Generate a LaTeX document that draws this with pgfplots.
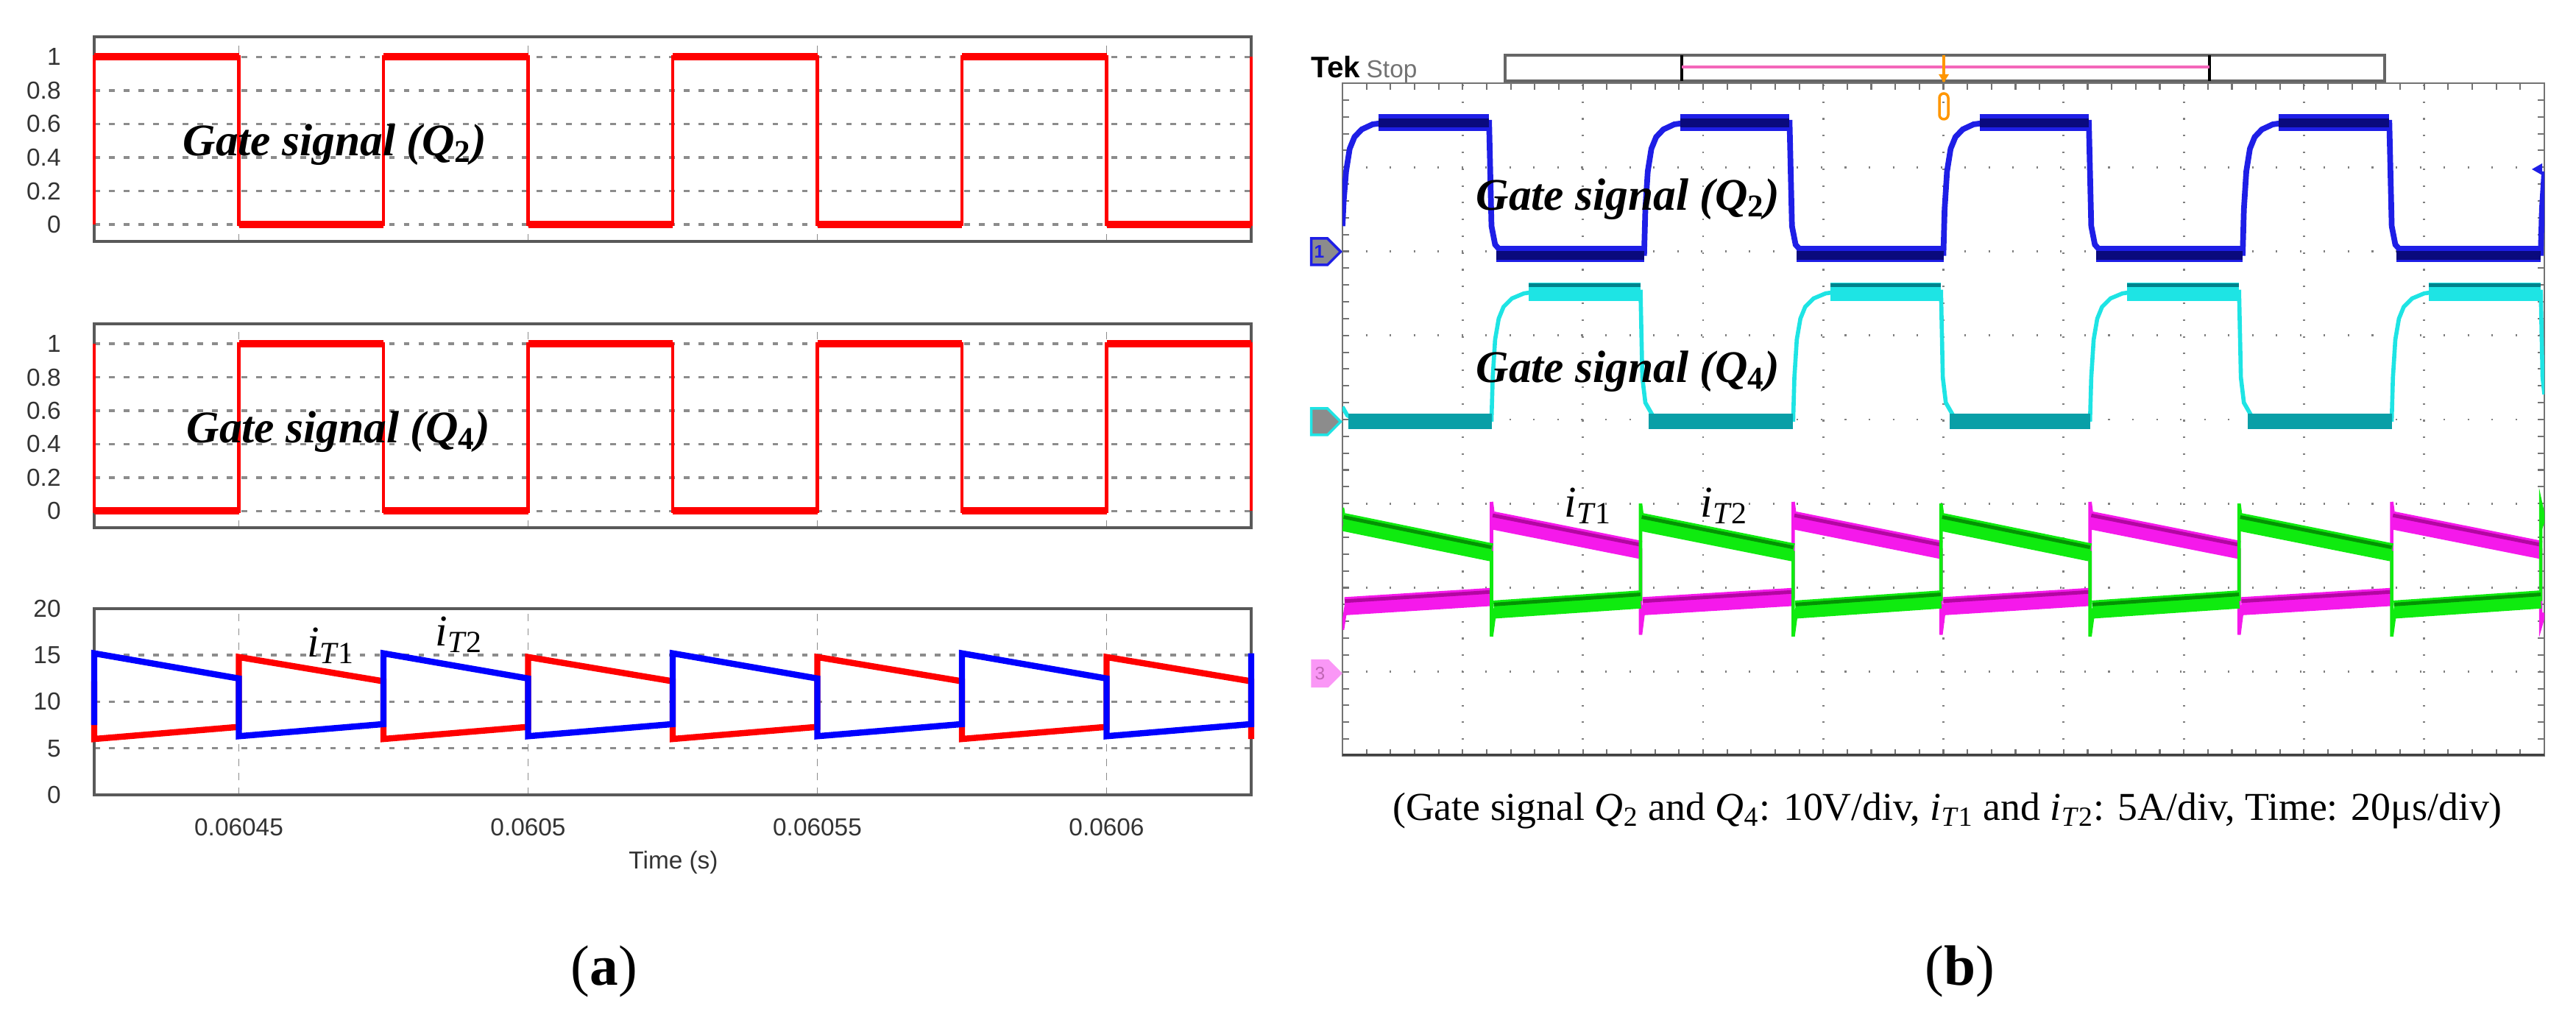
\documentclass[border=0pt]{standalone}
\usepackage{fontspec}
\setmainfont{Liberation Serif}
\setsansfont{Liberation Sans}
\usepackage{pgfplots}
\pgfplotsset{compat=1.18}
\usetikzlibrary{shapes.symbols}

\definecolor{psimred}{RGB}{255,0,0}
\definecolor{psimblue}{RGB}{0,0,255}
\definecolor{tekblue}{RGB}{30,30,230}
\definecolor{tekblueD}{RGB}{10,10,125}
\definecolor{tekcyan}{RGB}{30,228,228}
\definecolor{tekcyanD}{RGB}{0,130,140}
\definecolor{tekmag}{RGB}{245,25,235}
\definecolor{tekmagD}{RGB}{150,0,130}
\definecolor{tekgreen}{RGB}{15,235,15}
\definecolor{tekgreenD}{RGB}{0,110,0}
\definecolor{trig}{RGB}{255,150,0}

\newcommand\gatefont{\fontsize{17.5}{20}\selectfont\bfseries\itshape}
\newcommand\curfont{\fontsize{17}{20}\selectfont}
\newcommand\tickfont{\sffamily\fontsize{9.5}{11}\selectfont}

\pgfplotsset{
  psim/.style={
    scale only axis, width=157.2mm, anchor=south west,
    xmin=25, xmax=225, xtick={50,100,150,200}, xticklabels={},
    major tick length=0pt, clip=false,
    axis line style={black!65, line width=1.1pt},
    xmajorgrids, ymajorgrids,
    major x grid style={black!45, line width=0.5pt, dash pattern=on 2.8pt off 2.8pt},
    major y grid style={black!45, line width=1pt, dash pattern=on 2.2pt off 3.5pt},
    ticklabel style={font=\tickfont, text=black!80},
    yticklabel style={xshift=-3.3mm},
    /pgf/number format/assume math mode=true,
    unbounded coords=jump,
  },
}

\begin{document}
\begin{tikzpicture}
\path[use as bounding box] (0,0) rectangle (350mm,137.5mm);

% ---------- (a) simulation, time axis in us after 0.0604 s ----------
\begin{axis}[psim, at={(12.8mm,104.7mm)}, height=27.8mm,
  ymin=-0.1, ymax=1.12, ytick={0,0.2,0.4,0.6,0.8,1}]
\addplot[psimred, line width=1.3pt] coordinates {
  (25,0)(25,1)(50,1)(50,0)(75,0)(75,1)(100,1)(100,0)(125,0)(125,1)
  (150,1)(150,0)(175,0)(175,1)(200,1)(200,0)(225,0)(225,1)};
\addplot[psimred, line width=2.8pt] coordinates {
  (25,1)(50,1)(50,nan)(50,0)(75,0)(75,nan)(75,1)(100,1)(100,nan)(100,0)(125,0)(125,nan)
  (125,1)(150,1)(150,nan)(150,0)(175,0)(175,nan)(175,1)(200,1)(200,nan)(200,0)(225,0)};
\end{axis}

\begin{axis}[psim, at={(12.8mm,65.8mm)}, height=27.7mm,
  ymin=-0.1, ymax=1.12, ytick={0,0.2,0.4,0.6,0.8,1}]
\addplot[psimred, line width=1.3pt] coordinates {
  (25,1)(25,0)(50,0)(50,1)(75,1)(75,0)(100,0)(100,1)(125,1)(125,0)
  (150,0)(150,1)(175,1)(175,0)(200,0)(200,1)(225,1)(225,0)};
\addplot[psimred, line width=2.8pt] coordinates {
  (25,0)(50,0)(50,nan)(50,1)(75,1)(75,nan)(75,0)(100,0)(100,nan)(100,1)(125,1)(125,nan)
  (125,0)(150,0)(150,nan)(150,1)(175,1)(175,nan)(175,0)(200,0)(200,nan)(200,1)(225,1)};
\end{axis}

\begin{axis}[psim, at={(12.8mm,29.5mm)}, height=25.3mm,
  ymin=0, ymax=20, ytick={0,5,10,15,20},
  xticklabels={0.06045,0.0605,0.06055,0.0606},
  xticklabel style={yshift=-2mm}]
\addplot[psimred, line width=2.4pt] coordinates {
  (25,12.2)(25,6.0)(50,7.3)(50,14.8)(75,12.2)(75,6.0)(100,7.3)(100,14.8)(125,12.2)
  (125,6.0)(150,7.3)(150,14.8)(175,12.2)(175,6.0)(200,7.3)(200,14.8)(225,12.2)(225,6.0)};
\addplot[psimblue, line width=2.4pt] coordinates {
  (25,7.5)(25,15.2)(50,12.5)(50,6.3)(75,7.6)(75,15.2)(100,12.5)(100,6.3)(125,7.6)
  (125,15.2)(150,12.5)(150,6.3)(175,7.6)(175,15.2)(200,12.5)(200,6.3)(225,7.6)(225,15.2)};
\end{axis}

\node[font=\tickfont, text=black!80] at (91.5mm,20.3mm) {Time (s)};
\node[font=\gatefont] at (45.5mm,117.8mm) {Gate signal (Q\textsubscript{\upshape 2})};
\node[font=\gatefont] at (46.0mm,78.8mm) {Gate signal (Q\textsubscript{\upshape 4})};
\node[font=\curfont] at (45.0mm,49.8mm) {\textit{i}\textsubscript{\textit{T}1}};
\node[font=\curfont] at (62.4mm,51.3mm) {\textit{i}\textsubscript{\textit{T}2}};

% ---------- (b) oscilloscope, 10 x 8 divisions ----------
\begin{axis}[scale only axis, width=163.3mm, height=91.4mm,
  at={(182.4mm,34.8mm)}, anchor=south west,
  xmin=0, xmax=10, ymin=-4, ymax=4,
  xtick={0,...,10}, ytick={-4,...,4}, xticklabels={}, yticklabels={},
  minor x tick num=4, minor y tick num=4, tick align=inside,
  major tick length=0.9mm, minor tick length=0.9mm,
  tick style={black!55, line width=0.6pt},
  grid=major,
  major x grid style={black!50, line width=0.8pt, dash pattern=on 0.6pt off 5.88pt, dash phase=0.3pt},
  major y grid style={black!50, line width=0.8pt, dash pattern=on 0.6pt off 8.66pt, dash phase=0.3pt},
  extra x ticks={5}, extra y ticks={0}, extra x tick labels={}, extra y tick labels={},
  extra tick style={major grid style={solid, black!45, line width=0.9pt}},
  axis line style={black!55, line width=0.8pt},
  unbounded coords=jump]
% CH2, gate Q4
\addplot[tekcyan, line width=1.6pt] coordinates {
  (0,0.15)(0.04,0.05)(0.1,0.0)(1.24,0.0)(1.25,0.5)(1.27,0.95)(1.30,1.2)(1.34,1.34)(1.41,1.44)(1.51,1.5)(1.61,1.52)
  (2.48,1.52)(2.495,0.5)(2.52,0.2)(2.58,0.05)(2.66,0.0)
  (3.75,0.0)(3.76,0.5)(3.78,0.95)(3.81,1.2)(3.85,1.34)(3.92,1.44)(4.02,1.5)(4.12,1.52)
  (4.98,1.52)(4.995,0.5)(5.02,0.2)(5.08,0.05)(5.16,0.0)
  (6.22,0.0)(6.23,0.5)(6.25,0.95)(6.28,1.2)(6.32,1.34)(6.39,1.44)(6.49,1.5)(6.59,1.52)
  (7.46,1.52)(7.475,0.5)(7.5,0.2)(7.56,0.05)(7.64,0.0)
  (8.73,0.0)(8.74,0.5)(8.76,0.95)(8.79,1.2)(8.83,1.34)(8.9,1.44)(9.0,1.5)(9.1,1.52)
  (9.97,1.52)(9.985,0.5)(10,0.3)};
\addplot[tekcyan, line width=7pt] coordinates {
  (1.55,1.52)(2.48,1.52)(2.48,nan)(4.06,1.52)(4.98,1.52)(4.98,nan)
  (6.53,1.52)(7.46,1.52)(7.46,nan)(9.04,1.52)(9.97,1.52)};
\addplot[tekcyanD!70!tekcyan, line width=6pt] coordinates {
  (0.05,-0.02)(1.24,-0.02)(1.24,nan)(2.55,-0.02)(3.75,-0.02)(3.75,nan)
  (5.05,-0.02)(6.22,-0.02)(6.22,nan)(7.53,-0.02)(8.73,-0.02)};
\addplot[tekcyanD, line width=1.5pt] coordinates {
  (1.55,1.6)(2.48,1.6)(2.48,nan)(4.06,1.6)(4.98,1.6)(4.98,nan)
  (6.53,1.6)(7.46,1.6)(7.46,nan)(9.04,1.6)(9.97,1.6)};
% CH1, gate Q2
\addplot[tekblue, line width=2.2pt] coordinates {
  (0,2.3)(0.01,2.6)(0.03,2.95)(0.06,3.22)(0.1,3.36)(0.16,3.45)(0.25,3.51)(0.35,3.53)
  (1.22,3.53)(1.24,2.3)(1.27,2.08)(1.32,2.0)(1.37,1.98)
  (2.51,1.98)(2.52,2.5)(2.54,2.95)(2.57,3.22)(2.61,3.36)(2.67,3.45)(2.76,3.51)(2.86,3.53)
  (3.72,3.53)(3.74,2.3)(3.77,2.08)(3.82,2.0)(3.87,1.98)
  (5.0,1.98)(5.01,2.5)(5.03,2.95)(5.06,3.22)(5.1,3.36)(5.16,3.45)(5.25,3.51)(5.35,3.53)
  (6.21,3.53)(6.23,2.3)(6.26,2.08)(6.31,2.0)(6.36,1.98)
  (7.49,1.98)(7.5,2.5)(7.52,2.95)(7.55,3.22)(7.59,3.36)(7.65,3.45)(7.74,3.51)(7.84,3.53)
  (8.71,3.53)(8.73,2.3)(8.76,2.08)(8.81,2.0)(8.86,1.98)
  (9.97,1.98)(9.98,2.5)(10,2.95)};
\addplot[tekblue, line width=6.5pt] coordinates {
  (0.3,3.53)(1.22,3.53)(1.22,nan)(2.81,3.53)(3.72,3.53)(3.72,nan)
  (5.3,3.53)(6.21,3.53)(6.21,nan)(7.79,3.53)(8.71,3.53)(8.71,nan)
  (1.28,1.97)(2.51,1.97)(2.51,nan)(3.78,1.97)(5.0,1.97)(5.0,nan)
  (6.27,1.97)(7.49,1.97)(7.49,nan)(8.77,1.97)(9.97,1.97)};
\addplot[tekblueD, line width=3.5pt] coordinates {
  (0.3,3.53)(1.22,3.53)(1.22,nan)(2.81,3.53)(3.72,3.53)(3.72,nan)
  (5.3,3.53)(6.21,3.53)(6.21,nan)(7.79,3.53)(8.71,3.53)(8.71,nan)
  (1.28,1.95)(2.51,1.95)(2.51,nan)(3.78,1.95)(5.0,1.95)(5.0,nan)
  (6.27,1.95)(7.49,1.95)(7.49,nan)(8.77,1.95)(9.97,1.95)};
% CH3, iT1
\addplot[tekmag, line width=1.3pt] coordinates {
  (0,-2.5)(0.03,-2.22)(1.24,-2.11)(1.24,-0.98)(1.26,-1.2)(2.48,-1.55)(2.48,-2.56)(2.51,-2.22)
  (3.75,-2.11)(3.75,-0.98)(3.77,-1.2)(4.98,-1.55)(4.98,-2.56)(5.01,-2.22)
  (6.22,-2.11)(6.22,-0.98)(6.24,-1.2)(7.46,-1.55)(7.46,-2.56)(7.49,-2.22)
  (8.73,-2.11)(8.73,-0.98)(8.75,-1.2)(9.97,-1.55)(9.97,-2.45)(10,-2.3)};
\addplot[tekmag, line width=7pt] coordinates {
  (1.25,-1.2)(2.48,-1.55)(2.48,nan)(3.76,-1.2)(4.98,-1.55)(4.98,nan)
  (6.23,-1.2)(7.46,-1.55)(7.46,nan)(8.74,-1.2)(9.97,-1.55)(9.97,nan)
  (0.02,-2.22)(1.24,-2.11)(1.24,nan)(2.5,-2.22)(3.75,-2.11)(3.75,nan)
  (5.0,-2.22)(6.22,-2.11)(6.22,nan)(7.48,-2.22)(8.73,-2.11)};
\addplot[tekmagD, line width=1.4pt, opacity=0.7] coordinates {
  (1.25,-1.14)(2.48,-1.49)(2.48,nan)(3.76,-1.14)(4.98,-1.49)(4.98,nan)
  (6.23,-1.14)(7.46,-1.49)(7.46,nan)(8.74,-1.14)(9.97,-1.49)(9.97,nan)
  (0.02,-2.16)(1.24,-2.05)(1.24,nan)(2.5,-2.16)(3.75,-2.05)(3.75,nan)
  (5.0,-2.16)(6.22,-2.05)(6.22,nan)(7.48,-2.16)(8.73,-2.05)};
% CH4, iT2
\addplot[tekgreen, line width=1.3pt] coordinates {
  (0,-1.05)(0.02,-1.22)(1.24,-1.58)(1.24,-2.58)(1.27,-2.26)(2.48,-2.14)
  (2.48,-1.0)(2.50,-1.22)(3.75,-1.58)(3.75,-2.58)(3.78,-2.26)(4.98,-2.14)
  (4.98,-1.0)(5.0,-1.22)(6.22,-1.58)(6.22,-2.58)(6.25,-2.26)(7.46,-2.14)
  (7.46,-1.0)(7.48,-1.22)(8.73,-1.58)(8.73,-2.58)(8.76,-2.26)(9.97,-2.14)
  (9.97,-1.0)(10,-1.2)};
\addplot[tekgreen, line width=7pt] coordinates {
  (0.01,-1.22)(1.24,-1.58)(1.24,nan)(2.49,-1.22)(3.75,-1.58)(3.75,nan)
  (4.99,-1.22)(6.22,-1.58)(6.22,nan)(7.47,-1.22)(8.73,-1.58)(8.73,nan)
  (9.98,-1.22)(10,-1.23)(10,nan)
  (1.26,-2.26)(2.48,-2.14)(2.48,nan)(3.77,-2.26)(4.98,-2.14)(4.98,nan)
  (6.24,-2.26)(7.46,-2.14)(7.46,nan)(8.75,-2.26)(9.97,-2.14)};
\addplot[tekgreenD, line width=1.4pt, opacity=0.7] coordinates {
  (0.01,-1.16)(1.24,-1.52)(1.24,nan)(2.49,-1.16)(3.75,-1.52)(3.75,nan)
  (4.99,-1.16)(6.22,-1.52)(6.22,nan)(7.47,-1.16)(8.73,-1.52)(8.73,nan)
  (1.26,-2.2)(2.48,-2.08)(2.48,nan)(3.77,-2.2)(4.98,-2.08)(4.98,nan)
  (6.24,-2.2)(7.46,-2.08)(7.46,nan)(8.75,-2.2)(9.97,-2.08)};
\draw[black!75, line width=1.6pt] (rel axis cs:0,0) -- (rel axis cs:1,0);
\end{axis}

% scope frame decorations
\draw[black!60, line width=0.9pt, fill=white] (204.5mm,126.5mm) rectangle (324.0mm,130.0mm);
\draw[black, line width=0.9pt] (228.5mm,126.5mm) -- (228.5mm,130.0mm);
\draw[black, line width=0.9pt] (300.2mm,126.5mm) -- (300.2mm,130.0mm);
\draw[magenta!60, line width=1pt] (228.5mm,128.4mm) -- (300.2mm,128.4mm);
\draw[trig, line width=1.2pt] (264.1mm,130.0mm) -- (264.1mm,126.4mm);
\fill[trig] (263.4mm,127.4mm) -- (264.8mm,127.4mm) -- (264.1mm,126.3mm) -- cycle;
\draw[trig, line width=1pt, rounded corners=0.6mm] (263.5mm,121.3mm) rectangle (264.7mm,124.8mm);
\fill[tekblue] (344.0mm,114.5mm) -- (345.4mm,115.3mm) -- (345.4mm,113.7mm) -- cycle;
\node[font=\sffamily\bfseries\fontsize{11.5}{12}\selectfont, anchor=base west, inner sep=0pt] at (178.1mm,126.9mm) {Tek};
\node[font=\sffamily\fontsize{9.5}{11}\selectfont, text=black!55, anchor=base west, inner sep=0pt] at (185.6mm,126.9mm) {Stop};
\node[signal, signal to=east, draw=tekblue, line width=1pt, fill=black!45, text=tekblue,
  font=\sffamily\bfseries\scriptsize, minimum width=4mm, minimum height=3.6mm, inner sep=0.3mm, anchor=east]
  at (182.4mm,103.3mm) {1};
\node[signal, signal to=east, draw=tekcyan, line width=1pt, fill=black!45, text=black!45,
  font=\sffamily\bfseries\scriptsize, minimum width=4mm, minimum height=3.6mm, inner sep=0.3mm, anchor=east]
  at (182.4mm,80.2mm) {2};
\node[signal, signal to=east, draw=tekmag!45, line width=0.6pt, fill=tekmag!45, text=tekmagD!60,
  font=\sffamily\scriptsize, minimum width=4mm, minimum height=3.6mm, inner sep=0.3mm, anchor=east]
  at (182.4mm,46.0mm) {3};

\node[font=\gatefont] at (221.2mm,110.4mm) {Gate signal (Q\textsubscript{\upshape 2})};
\node[font=\gatefont] at (221.2mm,87.0mm) {Gate signal (Q\textsubscript{\upshape 4})};
\node[font=\curfont] at (215.8mm,68.8mm) {\textit{i}\textsubscript{\textit{T}1}};
\node[font=\curfont] at (234.3mm,68.8mm) {\textit{i}\textsubscript{\textit{T}2}};

\node[font=\fontsize{15.3}{17}\selectfont] at (264.6mm,27.3mm)
  {(Gate signal \textit{Q}\textsubscript{2} and \textit{Q}\textsubscript{4}: 10V/div, \textit{i}\textsubscript{\textit{T}1} and \textit{i}\textsubscript{\textit{T}2}: 5A/div, Time: 20μs/div)};

\node[font=\fontsize{22}{24}\selectfont] at (82.1mm,5.5mm) {(\textbf{a})};
\node[font=\fontsize{22}{24}\selectfont] at (266.3mm,5.5mm) {(\textbf{b})};
\end{tikzpicture}
\end{document}
